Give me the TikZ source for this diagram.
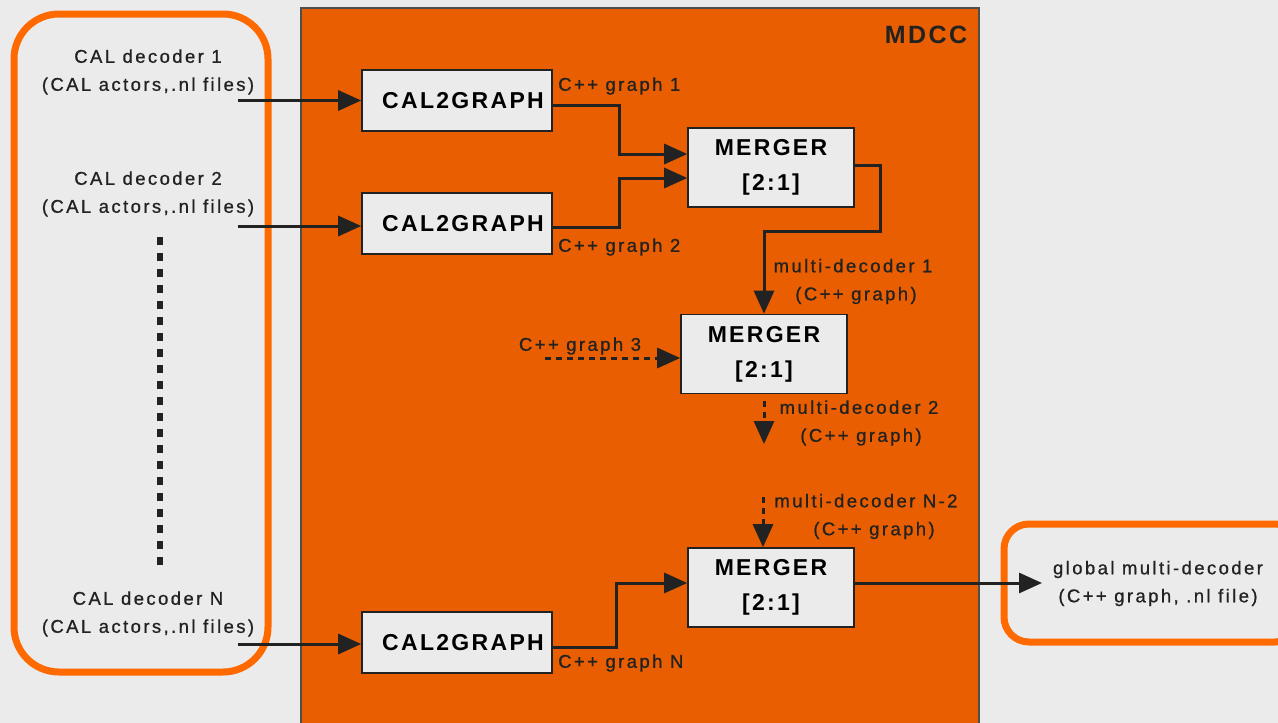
\documentclass[tikz,border=0pt]{standalone}
\usepackage{fontspec}
\setmainfont{Liberation Sans}[LetterSpace=10]
\newfontfamily\lblfont{Liberation Sans}[LetterSpace=13,FakeBold=0.8]
\usetikzlibrary{arrows.meta,calc}
\definecolor{bg}{HTML}{EBEBEB}
\definecolor{mdcc}{HTML}{E85E00}
\definecolor{ring}{HTML}{FF6A00}
\definecolor{ink}{HTML}{222222}
\tikzset{
  boxnode/.style={draw=ink,line width=1.6pt,fill=bg,inner sep=0pt,minimum width=166pt,minimum height=79pt,align=center,font=\fontsize{23}{35}\selectfont\bfseries},
  c2gnode/.style={draw=ink,line width=1.6pt,fill=bg,inner sep=0pt,minimum width=190pt,minimum height=61pt,font=\fontsize{23}{28}\selectfont\bfseries},
  lbl/.style={inner sep=0pt,align=center,text=ink,font=\fontsize{18.5}{28}\selectfont\lblfont},
  arr/.style={draw=ink,line width=3pt,-{Triangle[length=23pt,width=20pt]}},
  darr/.style={arr,dash pattern=on 6pt off 5pt},
  ringbox/.style={draw=ring,line width=7pt,fill=bg}
}
\begin{document}
\begin{tikzpicture}[x=1pt,y=-1pt]
\useasboundingbox (0,0) rectangle (1278,723);
\fill[bg] (0,0) rectangle (1278,723);
% MDCC panel
\draw[fill=mdcc,draw=ink!80,line width=1.5pt] (301,8) rectangle (979,730);
\node[font=\fontsize{25}{28}\selectfont\bfseries,text=ink,inner sep=0pt] (mdcc) at (926,35) {MDCC};
% input and output frames
\draw[ringbox,rounded corners=45pt] (14,14) rectangle (268,672);
\draw[ringbox,rounded corners=25pt] (1004,524) rectangle (1300,642);
% left labels
\node[lbl] (l1) at (148,72) {CAL decoder 1\\(CAL actors,.nl files)};
\node[lbl] (l2) at (148,194) {CAL decoder 2\\(CAL actors,.nl files)};
\node[lbl] (ln) at (148,614) {CAL decoder N\\(CAL actors,.nl files)};
\draw[ink,line width=6pt,dash pattern=on 8pt off 8pt] (160,237) -- (160,566);
\coordinate (s1) at (238,100.5);
\coordinate (s2) at (238,226);
\coordinate (sn) at (238,644);
% boxes
\node[c2gnode] (c1) at (457,100.5) {\hspace*{12pt}CAL2GRAPH};
\node[c2gnode] (c2) at (457,223.5) {\hspace*{12pt}CAL2GRAPH};
\node[c2gnode] (c3) at (457,642.5) {\hspace*{12pt}CAL2GRAPH};
\node[boxnode] (m1) at (771,167.5) {MERGER\\{[2:1]}};
\node[boxnode] (m2) at (764,354) {MERGER\\{[2:1]}};
\node[boxnode] (m3) at (771,587.5) {MERGER\\{[2:1]}};
% output label
\node[lbl] (glob) at (1158,583.5) {global multi-decoder\\(C++ graph, .nl file)};
\coordinate (gin) at (1042,583);
% inputs
\draw[arr] (s1) -- (c1.west);
\draw[arr] (s2) -- (s2 -| c2.west);
\draw[arr] (sn) -- (sn -| c3.west);
% C2G -> merger1
\draw[arr] ($(c1.east)+(0,5)$) -| ($(m1.west)+(-68,-13.5)$) -- ($(m1.west)+(0,-13.5)$);
\draw[arr] ($(c2.east)+(0,3.5)$) -| ($(m1.west)+(-68,10.5)$) -- ($(m1.west)+(0,10.5)$);
\node[lbl,anchor=west] (g1) at (558,86) {C++ graph 1};
\node[lbl,anchor=west] (g2) at (558,247) {C++ graph 2};
% merger1 -> merger2
\draw[arr] ($(m1.east)+(0,-2.5)$) -- (880,165) -- (880,231) -| (m2.north);
\node[lbl] (md1) at (853,281.5) {multi-decoder 1\\\hspace*{6pt}(C++ graph)};
% C++ graph 3
\coordinate (g3s) at (545,358);
\draw[darr] (g3s) -- ($(m2.west)+(0,4)$);
\node[lbl] (g3) at (580,346) {C++ graph 3};
% merger2 dashed out
\coordinate (d2) at (764,444);
\draw[darr] ($(m2.south)+(0,7)$) -- (d2);
\node[lbl] (md2) at (859,423) {multi-decoder 2\\\hspace*{4pt}(C++ graph)};
% into merger3
\coordinate (dn) at (763,497);
\draw[darr] (dn) -- (dn |- m3.north);
\node[lbl] (mdn) at (866,516.5) {multi-decoder N-2\\\hspace*{16pt}(C++ graph)};
% C2G N -> merger3
\draw[arr] ($(c3.east)+(0,4.5)$) -| ($(m3.west)+(-71,-4.5)$) -- ($(m3.west)+(0,-4.5)$);
\node[lbl,anchor=west] (gn) at (558,663) {C++ graph N};
% merger3 -> output
\draw[arr] ($(m3.east)+(0,-4.5)$) -- (gin);
\end{tikzpicture}
\end{document}
